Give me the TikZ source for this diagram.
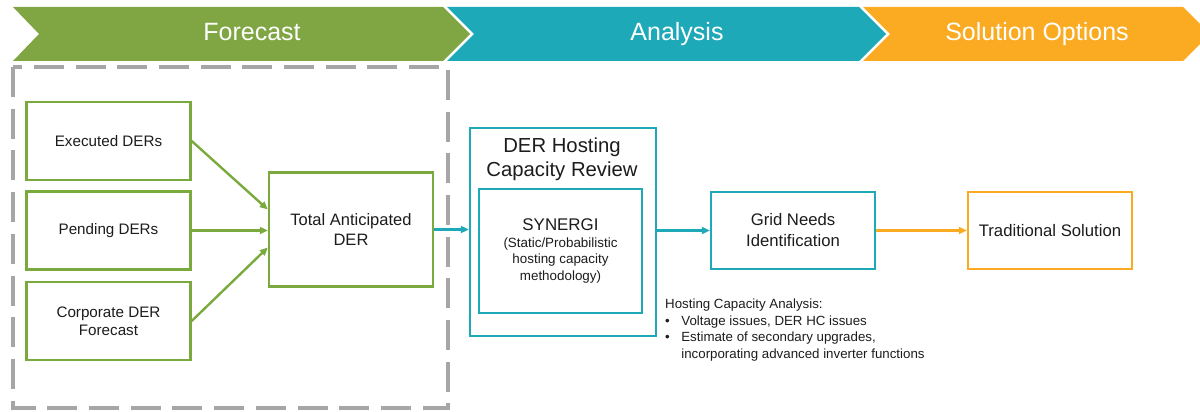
\documentclass[tikz,border=0pt]{standalone}
\usepackage{fontspec}
\setmainfont{Liberation Sans}
\usetikzlibrary{arrows.meta,positioning,calc}
\definecolor{fcgreen}{RGB}{127,166,66}
\definecolor{boxgreen}{RGB}{122,170,61}
\definecolor{anteal}{RGB}{30,169,185}
\definecolor{solorange}{RGB}{250,171,33}
\definecolor{dashgray}{RGB}{166,166,166}
\definecolor{inkgray}{RGB}{28,28,28}

\tikzset{
  headtxt/.style={text=white,anchor=base,font=\fontsize{25}{30}\selectfont},
  derbox/.style={draw,line width=2.4pt,fill=white,align=center,inner sep=2pt,text=inkgray},
  inputbox/.style={derbox,draw=boxgreen,minimum width=164pt,minimum height=78pt,font=\fontsize{15.2}{18}\selectfont},
  greenflow/.style={boxgreen,line width=2.4pt,-{Triangle[length=8pt,width=7pt]}},
  tealflow/.style={anteal,line width=2.4pt,-{Triangle[length=8pt,width=7pt]}},
  orangeflow/.style={solorange,line width=2.4pt,-{Triangle[length=8pt,width=7pt]}}
}

\begin{document}
\begin{tikzpicture}[x=1pt,y=-1pt]
  \useasboundingbox (0,0) rectangle (1200,412);
  % phase banner
  \fill[fcgreen] (13,7) -- (443,7) -- (470,34) -- (443,61) -- (13,61) -- (39,34) -- cycle;
  \fill[anteal] (447,7) -- (859,7) -- (886,34) -- (859,61) -- (447,61) -- (474,34) -- cycle;
  \fill[solorange] (863,7) -- (1183,7) -- (1210,34) -- (1183,61) -- (863,61) -- (890,34) -- cycle;
  \node[headtxt] (fchead) at (252,41) {Forecast};
  \node[headtxt] (anhead) at (677,41) {Analysis};
  \node[headtxt] (solhead) at (1037,41) {Solution Options};

  % forecast group
  \draw[dashgray,line width=4pt,dash pattern=on 30pt off 11.7pt] (13,67) rectangle (448,408);
  \node[inputbox] (executed) at (108.5,141) {Executed DERs};
  \node[inputbox] (pending) at (108.5,230.5) {Pending DERs};
  \node[inputbox] (corporate) at (108.5,321) {Corporate DER\\Forecast};
  \node[derbox,draw=boxgreen,minimum width=164pt,minimum height=114pt,
    font=\fontsize{16.5}{20.5}\selectfont] (total) at (351,229.5) {Total Anticipated\\DER};
  \draw[greenflow] (executed.east) -- ($(total.west)+(0,-20)$);
  \draw[greenflow] (pending.east) -- (pending.east -| total.west);
  \draw[greenflow] (corporate.east) -- ($(total.west)+(0,18)$);

  % analysis
  \node[derbox,draw=anteal,minimum width=186pt,minimum height=208pt] (hcbox) at (563,232) {};
  \node[text=inkgray,align=center,font=\fontsize{20.3}{24}\selectfont] (hctitle) at (562,159)
    {DER Hosting\\Capacity Review};
  \node[derbox,draw=anteal,minimum width=163pt,minimum height=124pt,
    font=\fontsize{13.4}{16.5}\selectfont] (synergi) at (560.5,251)
    {{\fontsize{16.9}{18}\selectfont SYNERGI}\\(Static/Probabilistic\\hosting capacity\\methodology)};
  \node[derbox,draw=anteal,minimum width=164pt,minimum height=77pt,
    font=\fontsize{16.7}{21}\selectfont] (gridneeds) at (793,230.5) {Grid Needs\\Identification};
  \draw[tealflow] (total.east) -- (total.east -| hcbox.west);
  \draw[tealflow] (hcbox.east |- gridneeds.west) -- (gridneeds.west);
  \node[anchor=north west,inner sep=0pt,text=inkgray,font=\fontsize{13.3}{16.5}\selectfont] (hcnote) at (665,297)
    {\begin{tabular}{@{}l@{\hspace{11.5pt}}l@{}}
      \multicolumn{2}{@{}l@{}}{Hosting Capacity Analysis:}\\
      \textbullet & Voltage issues, DER HC issues\\
      \textbullet & Estimate of secondary upgrades,\\
                  & incorporating advanced inverter functions
    \end{tabular}};

  % solution options
  \node[derbox,draw=solorange,minimum width=164pt,minimum height=77pt,
    font=\fontsize{16.7}{21}\selectfont] (traditional) at (1050,230.5) {Traditional Solution};
  \draw[orangeflow] (gridneeds.east) -- (traditional.west);
\end{tikzpicture}
\end{document}
